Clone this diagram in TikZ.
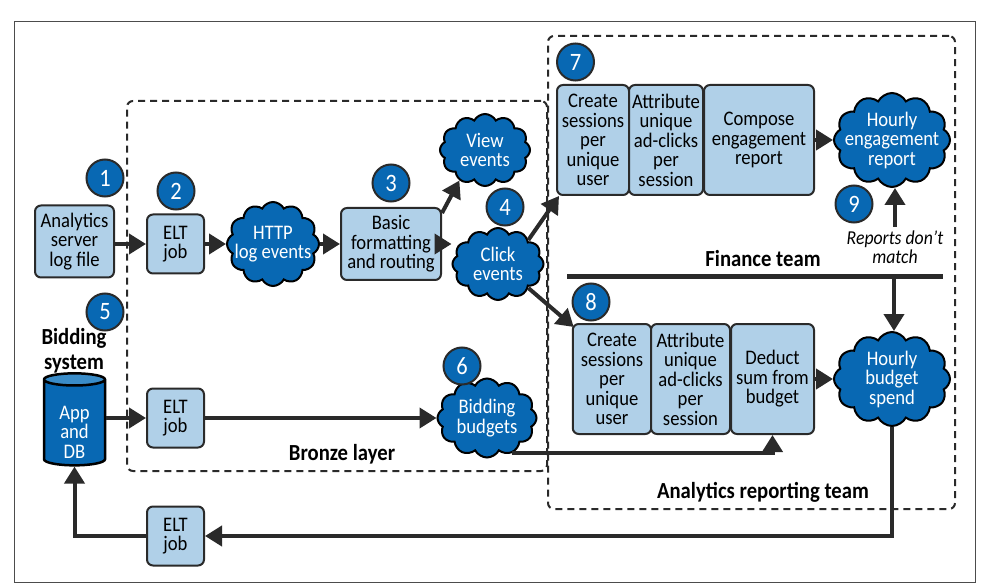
\documentclass[tikz,border=0pt]{standalone}
\usepackage{fontspec}
\setmainfont[FakeStretch=0.9]{Carlito}
\usepackage{tikz}
\usetikzlibrary{positioning,arrows.meta,shapes.geometric,shapes.symbols}
\definecolor{cblue}{HTML}{0868B3}
\definecolor{lblue}{HTML}{B0D0E8}
\definecolor{topblue}{HTML}{3A8CC8}
\definecolor{ink}{HTML}{2A2A2A}
\tikzset{
  basefont/.style={font=\fontsize{20.7}{19.5}\selectfont},
  procbox/.style={draw=ink,fill=lblue,rounded corners=6pt,line width=2pt,align=center,
    inner sep=0pt,basefont},
  bubble/.style={cloud,cloud puffs=12,cloud puff arc=125,cloud ignores aspect,draw=black,
    fill=cblue,line width=2pt,inner sep=0pt},
  bubblelbl/.style={text=white,align=center,basefont},
  numdot/.style={circle,draw=ink,fill=cblue,text=white,line width=2pt,minimum size=37pt,
    inner sep=0pt,font=\fontsize{25}{26}\selectfont},
  flow/.style={-{Triangle[length=17pt,width=20pt]},draw=ink,line width=4pt},
  zone/.style={draw=ink,dashed,dash pattern=on 7pt off 5pt,rounded corners=6pt,line width=2pt,
    inner sep=0pt},
  caption/.style={align=center,font=\fontsize{23}{25}\selectfont\bfseries},
}
\begin{document}
\begin{tikzpicture}[x=1pt,y=-1pt]
  \useasboundingbox (0,0) rectangle (983,588);
  \node[draw=black!70,line width=0.8pt,minimum width=961pt,minimum height=561pt,inner sep=0pt]
    (frame) at (494.5,301.5) {};
  \node[zone,minimum width=420pt,minimum height=370pt] (bronze) at (337,286) {};
  \node[zone,minimum width=407pt,minimum height=473pt] (reporting) at (751.5,272.5) {};
  % sources
  \node[procbox,minimum width=79pt,minimum height=72pt] (logfile) at (74.5,241.5)
    {Analytics\\server\\log file};
  \node[caption] (bidding) at (74,351) {Bidding\\system};
  \node[cylinder,shape border rotate=90,aspect=0.4,draw=black,line width=2.5pt,
    cylinder uses custom fill,cylinder body fill=cblue,cylinder end fill=topblue,
    minimum width=61pt,minimum height=92pt,inner sep=0pt,text=white,align=center,basefont]
    (appdb) at (74.5,423) {\mbox{}\\[12pt]App\\and\\DB};
  % bronze layer
  \foreach \name/\y in {eltlog/244,eltbid/418,eltback/536} {
    \node[procbox,minimum width=57pt,minimum height=59pt] (\name) at (175.5,\y) {ELT\\job};
  }
  \node[bubble,minimum width=92pt,minimum height=84pt,label={[bubblelbl]center:{HTTP\\log events}}]
    (http) at (273,244) {};
  \node[procbox,minimum width=100pt,minimum height=72pt] (routing) at (391,244)
    {Basic\\formatting\\and routing};
  \node[bubble,minimum width=90pt,minimum height=72pt,label={[bubblelbl]center:{View\\events}}]
    (viewev) at (485,150) {};
  \node[bubble,minimum width=91pt,minimum height=72pt,label={[bubblelbl]center:{Click\\events}}]
    (clickev) at (498,264) {};
  \node[bubble,minimum width=99pt,minimum height=79pt,label={[bubblelbl]center:{Bidding\\budgets}}]
    (bidbud) at (487,418) {};
  \node[caption] (bronzelbl) at (342,454) {Bronze layer};
  % finance team
  \node[procbox,minimum width=72pt,minimum height=110pt] (sessfin) at (593,140)
    {Create\\sessions\\per\\unique\\user};
  \node[procbox,minimum width=74pt,minimum height=110pt] (attrfin) at (666,140)
    {Attribute\\unique\\ad-clicks\\per\\session};
  \node[procbox,minimum width=110pt,minimum height=110pt] (compose) at (759,140)
    {Compose\\engagement\\report};
  \node[bubble,minimum width=116pt,minimum height=94pt,label={[bubblelbl]center:{Hourly\\engagement\\report}}]
    (hourlyeng) at (892,140) {};
  \node[caption] (financelbl) at (763,259) {Finance team};
  \node[align=center,font=\fontsize{19.7}{19.5}\selectfont\itshape] (mismatch) at (895,247)
    {Reports don't\\match};
  \coordinate (finl) at (567,277);
  \coordinate (finr) at (943,277);
  \coordinate (fincross) at (894,277);
  % budget side
  \node[procbox,minimum width=78.5pt,minimum height=110pt] (sessbud) at (612,379)
    {Create\\sessions\\per\\unique\\user};
  \node[procbox,minimum width=79pt,minimum height=110pt] (attrbud) at (690.5,379)
    {Attribute\\unique\\ad-clicks\\per\\session};
  \node[procbox,minimum width=83pt,minimum height=110pt] (deduct) at (772.5,379)
    {Deduct\\sum from\\budget};
  \node[bubble,minimum width=116pt,minimum height=94pt,label={[bubblelbl]center:{Hourly\\budget\\spend}}]
    (hourlybud) at (892,379) {};
  \node[caption] (reportlbl) at (763,492) {Analytics reporting team};
  % numbers
  \foreach \n/\x/\y in {1/105/178,2/176/191,3/391/183,4/505/207,5/105/312,6/462/366,7/575.5/62,8/591/302,9/854/204} {
    \node[numdot] (num\n) at (\x,\y) {\n};
  }
  \coordinate (budout) at (512,453);
  % connectors
  \draw[flow] (logfile.east |- eltlog.west) -- (eltlog.west);
  \draw[flow] (eltlog.east) -- (http.west);
  \draw[flow] (http.east) -- (routing.west);
  \draw[flow] ([yshift=-6pt]routing.north east) -- (viewev.230);
  \draw[flow] (routing.east) -- (clickev.west |- routing.east);
  \draw[flow] (clickev.north east) -- ([xshift=3pt]sessfin.south west);
  \draw[flow] (clickev.south east) -- ([xshift=2pt,yshift=-4pt]sessbud.north west);
  \draw[flow] (appdb.east |- eltbid.west) -- (eltbid.west);
  \draw[flow] (eltbid.east) -- (bidbud.west);
  \draw[flow] (budout) -| (deduct.south);
  \draw[flow] (compose.east) -- (hourlyeng.west);
  \draw[flow] (deduct.east) -- (hourlybud.west);
  \draw[line width=5pt,draw=ink] (finl) -- (finr);
  \draw[flow] (mismatch.north) -- (hourlyeng.south -| mismatch.north);
  \draw[flow] (fincross) -- (hourlybud.north -| fincross);
  \draw[flow] (hourlybud.south) |- (eltback.east);
  \draw[flow] (eltback.west) -| (appdb.south);
\end{tikzpicture}
\end{document}
